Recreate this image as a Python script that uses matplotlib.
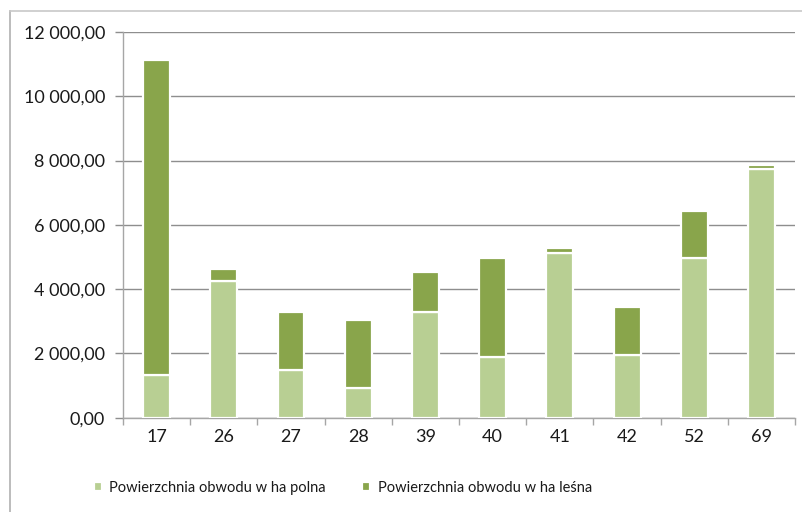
import matplotlib.pyplot as plt
from matplotlib.lines import Line2D
from matplotlib.ticker import FuncFormatter, FixedLocator, NullFormatter

plt.rcParams['font.family'] = ['Lato', 'DejaVu Sans']

obwody = ['17', '26', '27', '28', '39', '40', '41', '42', '52', '69']
polna = [1340, 4260, 1490, 930, 3300, 1900, 5135, 1950, 4960, 7750]
lesna = [9790, 380, 1800, 2120, 1220, 3060, 135, 1490, 1470, 110]

c_polna = '#b8cf93'
c_lesna = '#89a54b'
grid_c = '#8e8e8e'
axis_c = '#a6a6a6'
txt_c = '#1a1a1a'


def pl_format(v, pos):
    s = f'{v:,.2f}'
    return s.replace(',', ' ').replace('.', ',')


fig = plt.figure(figsize=(8.02, 5.12), dpi=100)
ax = fig.add_axes([0.1534, 0.1842, 0.838, 0.7533])

x = list(range(len(obwody)))
ax.bar(x, polna, width=0.40, color=c_polna, edgecolor='white', linewidth=1.6,
       label='Powierzchnia obwodu w ha polna', zorder=3)
ax.bar(x, lesna, width=0.40, bottom=polna, color=c_lesna, edgecolor='white',
       linewidth=1.6, label='Powierzchnia obwodu w ha leśna', zorder=3)

ax.set_xlim(-0.5, len(obwody) - 0.5)
ax.set_ylim(0, 12000)
ax.set_yticks(range(0, 12001, 2000))
ax.yaxis.set_major_formatter(FuncFormatter(pl_format))
ax.yaxis.grid(True, color=grid_c, linewidth=1.0, zorder=0)

ax.set_xticks(x)
ax.set_xticklabels(obwody)
ax.xaxis.set_minor_locator(FixedLocator([i - 0.5 for i in range(len(obwody) + 1)]))
ax.xaxis.set_minor_formatter(NullFormatter())
ax.tick_params(axis='x', which='major', length=0, pad=8, labelsize=13, colors=txt_c)
ax.tick_params(axis='x', which='minor', length=5, width=1, color=axis_c)
ax.tick_params(axis='y', length=6, width=1, color=grid_c, pad=7, labelsize=13,
               labelcolor=txt_c)

for side in ['top', 'right']:
    ax.spines[side].set_visible(False)
for side in ['left', 'bottom']:
    ax.spines[side].set_color(axis_c)
    ax.spines[side].set_linewidth(1.0)

leg = fig.legend(loc='center left', bbox_to_anchor=(0.117, 0.047), ncol=2, frameon=False,
                 fontsize=10.5, handlelength=0.55, handleheight=0.55, handletextpad=0.5,
                 columnspacing=2.5, borderaxespad=0, borderpad=0)
for t in leg.get_texts():
    t.set_color(txt_c)

# thin frame lines on the left and top edge of the chart area
fig.add_artist(Line2D([0.0125, 0.0125], [0.0, 0.979], color='#b0b0b0', linewidth=1.2,
                      transform=fig.transFigure))
fig.add_artist(Line2D([0.0125, 1.0], [0.979, 0.979], color='#c8c8c8', linewidth=1.2,
                      transform=fig.transFigure))

fig.savefig('out.png', dpi=100)
